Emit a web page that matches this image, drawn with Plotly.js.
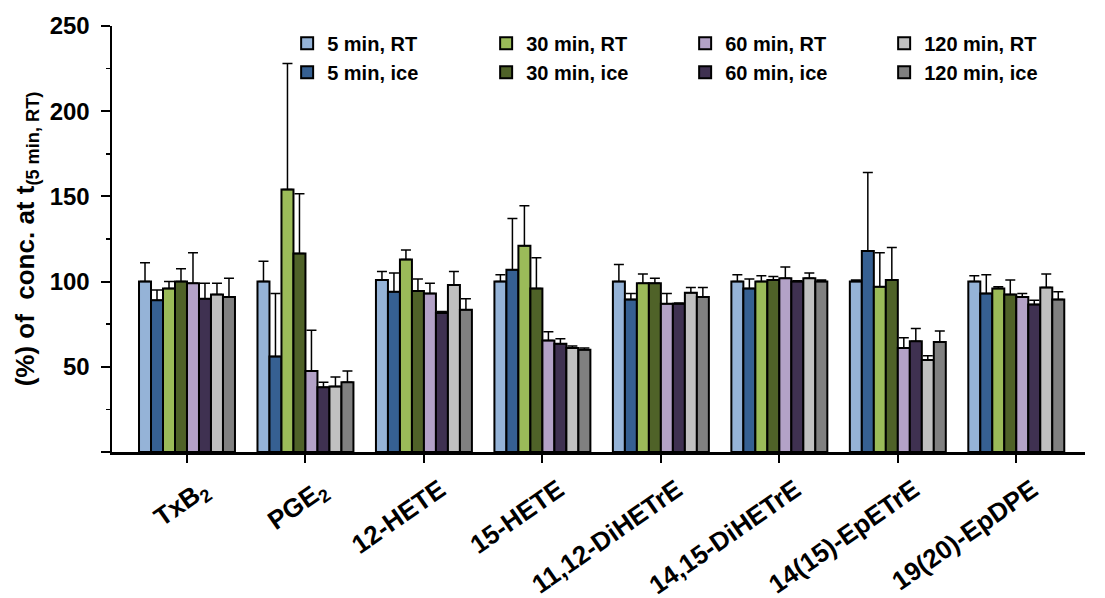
<!DOCTYPE html>
<html>
<head>
<meta charset="utf-8">
<script src="https://cdn.plot.ly/plotly-3.0.1.min.js"></script>
<style>html,body{margin:0;padding:0;background:#fff;}#chart{width:1105px;height:598px;}</style>
</head>
<body>
<div id="chart"></div>
<script>
const categories = ['TxB<sub>2</sub>','PGE<sub>2</sub>','12-HETE','15-HETE','11,12-DiHETrE','14,15-DiHETrE','14(15)-EpETrE','19(20)-EpDPE'];

const seriesNames = ['5 min, RT','5 min, ice','30 min, RT','30 min, ice','60 min, RT','60 min, ice','120 min, RT','120 min, ice'];

const min5RT      = [100, 100, 101, 100, 100, 100, 100, 100];
const min5RTErr   = [11, 12, 5, 4, 10, 4, 1, 3.5];
const min5Ice     = [89, 56, 94, 107, 89.5, 96, 118, 93];
const min5IceErr  = [6, 37, 11, 30, 3.5, 5.5, 46, 11];
const min30RT     = [96, 154, 113, 121, 99, 100, 97, 96];
const min30RTErr  = [4, 74, 5.5, 23.5, 5.5, 3.5, 20, 1];
const min30Ice    = [100, 116.5, 94.5, 96, 99, 101, 101, 92.5];
const min30IceErr = [7.5, 35, 7, 18, 3, 2, 19, 8.5];
const min60RT     = [99, 47.5, 93, 65.5, 87, 102, 61, 91];
const min60RTErr  = [18, 24, 6, 5, 6, 6.5, 6, 2];
const min60Ice    = [90, 38, 81.5, 63.5, 87, 100, 65, 86.5];
const min60IceErr = [9, 3, 1, 3, 0.5, 0.5, 7.5, 2.5];
const min120RT    = [92.5, 38.5, 98, 61, 93.5, 102, 54, 96.5];
const min120RTErr = [6.5, 5.5, 8, 1.2, 3, 3, 2.5, 8];
const min120Ice   = [91, 41, 83.5, 60, 91, 100, 64.5, 89.5];
const min120IceErr= [11, 6.5, 6.5, 1, 5.5, 1, 6.5, 4.5];

const yTickVals = [0, 50, 100, 150, 200, 250];
const yTickText = ['', '50', '100', '150', '200', '250'];

const values = [min5RT, min5Ice, min30RT, min30Ice, min60RT, min60Ice, min120RT, min120Ice];
const errors = [min5RTErr, min5IceErr, min30RTErr, min30IceErr, min60RTErr, min60IceErr, min120RTErr, min120IceErr];
const colors = ['#95b3d7','#366092','#9bbb59','#4f6228','#b3a2c7','#3f3151','#c0c0c0','#808080'];
const ranks  = [1, 5, 2, 6, 3, 7, 4, 8];

const xIdx = categories.map((c, i) => i);

const traces = values.map((v, k) => ({
  type: 'bar',
  name: seriesNames[k],
  x: xIdx,
  y: v,
  legendrank: ranks[k],
  marker: {color: colors[k], line: {color: '#000', width: 2}},
  error_y: {type: 'data', symmetric: false, array: errors[k], arrayminus: v.map(() => 0),
            color: '#000', thickness: 1.5, width: 5}
}));

const font = {family: '"Liberation Sans", Arial, sans-serif', color: '#000'};

const layout = {
  width: 1105, height: 598,
  margin: {l: 112, r: 20, t: 26, b: 146},
  paper_bgcolor: '#fff', plot_bgcolor: '#fff',
  barmode: 'group', bargap: 0.19, bargroupgap: 0,
  font: font,
  showlegend: true,
  legend: {
    orientation: 'h', x: 0.18, xanchor: 'left', y: 1.005, yanchor: 'top',
    entrywidth: 154, entrywidthmode: 'pixels', traceorder: 'normal',
    font: {family: font.family, size: 20, color: '#000', weight: 'bold'},
    bgcolor: 'rgba(0,0,0,0)', tracegroupgap: 0, itemwidth: 30
  },
  xaxis: {
    range: [-0.633, 7.58],
    tickmode: 'array', tickvals: xIdx, ticktext: categories,
    tickangle: -35,
    ticks: 'outside', ticklen: 8, tickwidth: 2, tickcolor: '#000',
    ticklabelshift: 16, ticklabelstandoff: 2,
    showline: true, linecolor: '#000', linewidth: 2.5,
    showgrid: false, zeroline: false,
    tickfont: {family: font.family, size: 26, color: '#000', weight: 'bold'}
  },
  yaxis: {
    range: [0, 250],
    tickmode: 'array', tickvals: yTickVals, ticktext: yTickText,
    ticks: 'outside', ticklen: 9, tickwidth: 2, tickcolor: '#000',
    ticklabelstandoff: 6,
    minor: {tickmode: 'linear', tick0: 0, dtick: 25, ticks: 'outside', ticklen: 4, tickwidth: 1.5, tickcolor: '#000', showgrid: false},
    showline: true, linecolor: '#000', linewidth: 2.5,
    showgrid: false, zeroline: false,
    tickfont: {family: font.family, size: 24, color: '#000', weight: 'bold'},
    title: {text: '(%) of  conc. at t<sub>(5 min, RT)</sub>', standoff: 8,
            font: {family: font.family, size: 26, color: '#000', weight: 'bold'}}
  }
};

Plotly.newPlot('chart', traces, layout, {displayModeBar: false, staticPlot: true});
</script>
</body>
</html>
